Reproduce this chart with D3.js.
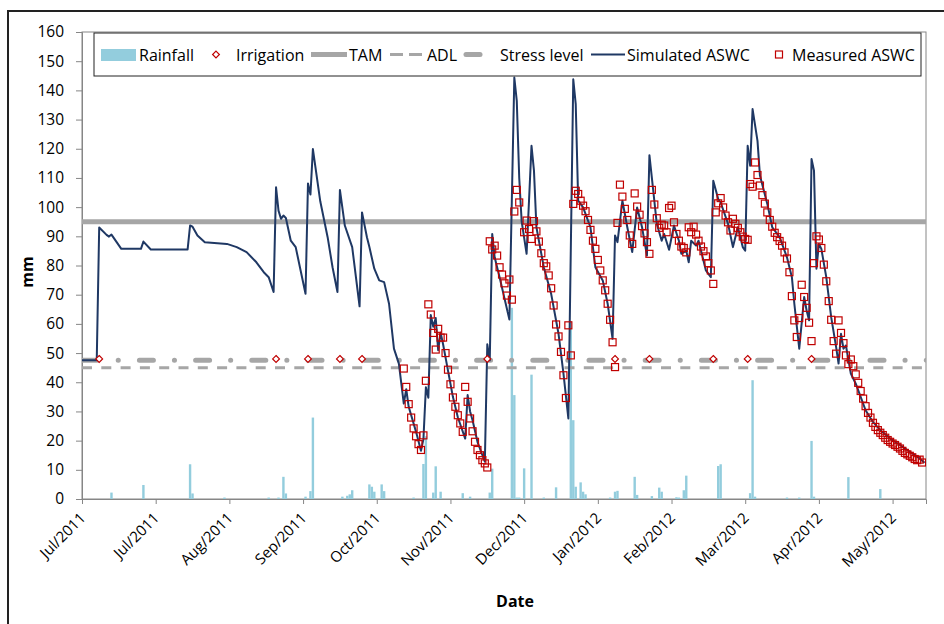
<!DOCTYPE html>
<html>
<head>
<meta charset="utf-8">
<script src="https://cdn.jsdelivr.net/npm/d3@7"></script>
<style>
  body { margin: 0; background: #fff; }
  svg { font-family: "Open Sans", "Noto Sans", sans-serif; }
</style>
</head>
<body>
<svg id="chart" width="944" height="624"></svg>
<script>
// days are counted from 1 Jul 2011
const startDate = Date.UTC(2011, 6, 1);

// simulated ASWC (mm), read at the turning points of the curve
const simDay = [0,6,7,10,11,12,16,24,25,28,43,44,45,47,50,59,63,67,71,74,76,78,79,80,81,82,83,85,87,89,91,92,93,94,97,100,102,104,105,107,110,113,114,116,117,119,121,123,125,127,129,131,132,133,136,138,139,140,141,142,143,144,145,146,147,149,151,153,156,157,158,159,161,163,164,165,166,167,168,170,174,176,177,178,179,181,183,184,185,188,191,194,196,198,200,201,202,204,207,209,212,214,216,217,218,220,222,224,226,228,230,231,232,234,236,237,239,241,243,244,246,247,248,250,251,254,256,257,259,260,263,265,267,269,270,271,272,273,275,276,279,281,284,287,289,290,292,294,295,296,297,298,299,300,301,303,305,307,308,309,310,311,313,315,317,319,322,325,329,333,337,341,343];
const simVal = [47.5,47.5,93,90.5,89.9,90.6,85.7,85.7,88.2,85.5,85.5,93.7,93.3,90.3,88,87.4,86.3,84.6,81.1,77.7,76,70.9,106.8,98.8,96,97.1,96.3,88.5,86.3,78.3,70.3,108.1,104.3,119.9,102,89.7,79.4,70.9,105.9,93.7,86.3,66,98.2,89.7,86.3,78.9,74.9,74.3,66.9,51.5,46.4,32.7,37.6,31.6,23,16.5,20.5,38.3,34.7,63,59,62,51,57,53,44,35,28,20.7,35.6,30,27,19.6,15,12.8,53,47.5,90.8,82.8,76,61.5,144.4,136.4,110,95,84,121,112.5,93.1,79.4,70.3,56.6,43,27.6,143.8,135.3,102.2,99.9,93.1,79.4,74.9,66.9,54.9,90.3,88,102.2,93.1,84.6,99.9,93.1,83.4,117.8,110,94.3,88.5,90.8,85.4,93.7,88.5,84,85.1,81.1,88.5,86.8,88.5,78.3,76,109,102.8,101.6,94.3,86.3,93.1,86.3,85.1,121,114.2,133.6,122.7,110.8,101.1,93.1,89.7,82.8,76,66.9,51.5,69.2,64.6,61.2,116.5,112.5,78.9,87.4,85.7,76,62.3,52.1,46.4,56.6,51.5,52.6,43,39.5,35,30.4,26.4,23.6,20.7,18.5,16.2,13.9,12.4];

// measured ASWC (mm)
const measDay = [131,132,133,134,135,136,137,138,139,140,141,142,143,144,145,146,147,148,149,150,151,152,153,154,155,156,157,158,159,160,161,162,163,164,165,
  166,167,168,169,170,171,172,173,174,175,176,177,178,180,181,182,183,184,185,186,187,188,189,190,191,192,193,194,195,196,197,198,199,
  200,201,202,203,204,205,206,207,208,209,210,211,212,213,214,215,216,217,218,219,220,221,222,223,224,225,226,227,228,229,230,231,
  232,233,234,235,236,237,238,239,240,241,242,243,244,245,246,247,248,249,250,251,252,253,254,255,256,257,258,259,260,261,262,263,264,
  265,266,267,268,269,270,271,272,273,274,275,276,277,278,279,280,281,282,283,284,285,286,287,288,289,290,291,292,293,294,295,296,297,
  298,299,300,301,302,303,304,305,306,307,308,309,310,311,312,313,314,315,316,317,318,319,320,321,322,323,324,325,326,327,328,329,330,
  331,332,333,334,335,336,337,338,339,340,341,342];
const measVal = [44.7,38.4,32.5,27.9,24.2,21.5,18.8,16.8,21.8,40.5,66.7,63.2,56.9,51.2,58.3,55.3,55.3,50,44.3,39.3,34.8,31.6,28.7,25.9,23,38.4,33.3,27.6,23.2,19.6,16.8,15,13.3,12.2,10.8,
  88.3,85.5,86.8,83.4,79.4,76.9,73.9,69.7,75.2,68.3,98.5,105.9,101.6,91.4,95.4,92.5,89.1,95.2,91.7,88.2,84.2,80.8,79.7,76.6,72.2,66.3,59.8,55.7,50.4,42.4,34.6,59.5,49.2,
  101.1,105.6,104.5,102.2,100.5,98.6,95.6,92.2,88.5,85.7,81.9,78.3,74.9,71.5,66.9,61.4,53.7,45.2,94.6,107.7,103.6,99.4,95.6,90.3,87.4,104.7,100.2,97.4,93.5,91,88,84,
  105.9,100.9,96.2,92.9,94,93.7,91.4,99.7,100.5,94.8,90.8,88.5,86.5,86,84.5,93.1,91.4,93.3,90.6,88.5,86.5,84.9,83.1,80.8,78.3,73.7,98.2,101.3,103.1,99.9,97.1,94.8,92,
  96,94.3,92.9,91.4,89.9,89.1,88.8,107.9,107,115.3,111,107.4,104.1,101.2,98.2,95.6,93.3,91.2,89.7,88.4,86.8,84.5,82.4,77.7,69.5,61.2,55.5,62,73.4,69.2,65.5,60.4,54.1,
  80.8,90,88.9,86,80.3,74.6,67.8,61.4,54.1,49.8,61.2,56.9,53.4,49.2,46.2,47.8,45.5,42.7,39.8,37,34.4,31.8,29.5,27.9,26.1,24.7,23.6,22.7,21.9,21,20.2,19.6,19,
  18.5,17.9,17.3,16.5,15.8,15.3,14.8,14.3,13.7,13.3,13.5,12.5];

// rainfall (mm/day)
const rainDay = [12,25,44,45,58,76,80,82,83,91,93,94,106,108,109,110,117,118,119,122,123,135,139,140,143,144,146,155,158,166,167,175,176,177,178,180,183,188,193,199,200,201,203,204,205,215,217,218,225,226,232,235,236,242,243,245,246,259,260,272,273,274,287,292,297,298,312,325];
const rainVal = [2.2,4.8,11.9,1.9,0.5,0.5,0.5,7.6,1.9,0.8,2.7,27.9,0.8,1.1,1.6,3,5,4.2,2.5,5,2.7,0.5,12,21.5,2.2,11.2,2.5,2,0.8,2.2,10.4,65.5,35.6,0.5,0.5,10.5,42.6,0.5,4,61,27,4.2,5.7,2.5,1.6,0.5,2.5,2.8,7.6,1.4,1,3.9,2.5,0.6,0.5,3,8,11.3,11.9,2,40.7,0.8,0.5,0.5,19.9,0.8,7.5,3.4];

// irrigation events
const irrDay = [7,79,92,105,114,165,217,231,257,271,297];
const irrVal = [48,48,48,48,48,48,48,48,48,48,48];

// thresholds (mm)
const TAM = 95, ADL = 45, STRESS = 47.5;

const yTicks = d3.range(0, 161, 10);
const xTickDays = d3.range(0, 331, 30);

const dayToDate = d => new Date(startDate + d * 864e5);

const svg = d3.select('#chart');
const pLeft = 82, pRight = 926, pTop = 32, pBottom = 499;

var x = d3.scaleUtc()
  .domain([dayToDate(0), dayToDate(343.6)])
  .range([pLeft, pRight]);
var y = d3.scaleLinear()
  .domain([0, 160])
  .range([pBottom, pTop]);

const grey = '#a6a6a6', axisGrey = '#868686', red = '#c00000', navy = '#1f3864', rainBlue = '#93cddd';

// outer frame
svg.append('rect')
  .attr('x', 8).attr('y', 11).attr('width', 960).attr('height', 640)
  .attr('fill', 'none').attr('stroke', '#222').attr('stroke-width', 2);

svg.append('defs').append('clipPath').attr('id', 'plot')
  .append('rect').attr('x', pLeft).attr('y', pTop).attr('width', pRight - pLeft).attr('height', pBottom - pTop);

// plot area border
svg.append('rect')
  .attr('x', pLeft).attr('y', pTop).attr('width', pRight - pLeft).attr('height', pBottom - pTop)
  .attr('fill', 'none').attr('stroke', axisGrey).attr('stroke-width', 1);

// axes
var yAxis = svg.append('g')
  .attr('transform', `translate(${pLeft},0)`)
  .call(d3.axisLeft(y).tickValues(yTicks).tickSize(6).tickPadding(12).tickFormat(d3.format('d')));
var xAxis = svg.append('g')
  .attr('transform', `translate(0,${pBottom})`)
  .call(d3.axisBottom(x).tickValues(xTickDays.map(dayToDate)).tickSize(5).tickFormat(d3.utcFormat('%b/%Y')));

svg.selectAll('.domain').attr('stroke', axisGrey);
svg.selectAll('.tick line').attr('stroke', axisGrey);
yAxis.selectAll('text').attr('font-size', 15.5).attr('fill', '#000').attr('font-family', '"Open Sans", sans-serif');
xAxis.selectAll('text')
  .attr('font-size', 15).attr('fill', '#000').attr('font-family', '"Open Sans", sans-serif')
  .attr('text-anchor', 'end')
  .attr('y', 0).attr('dy', 0)
  .attr('transform', 'translate(4,20) rotate(-45)');

// axis titles
svg.append('text')
  .attr('transform', 'translate(33,272) rotate(-90)')
  .attr('text-anchor', 'middle').attr('font-size', 16).attr('font-weight', 'bold')
  .text('mm');
svg.append('text')
  .attr('x', 515).attr('y', 607)
  .attr('text-anchor', 'middle').attr('font-size', 16).attr('font-weight', 'bold')
  .text('Date');

const plot = svg.append('g').attr('clip-path', 'url(#plot)');

// rainfall bars
plot.append('g')
  .selectAll('rect.rain')
  .data(rainDay.map((d, i) => ({day: d, v: rainVal[i]})))
  .enter()
  .append('rect')
  .classed('rain', true)
  .attr('x', d => x(dayToDate(d.day)) - 1.2)
  .attr('width', 2.4)
  .attr('y', d => y(d.v))
  .attr('height', d => y(0) - y(d.v))
  .attr('fill', rainBlue);

// threshold lines
plot.append('line')
  .attr('x1', pLeft).attr('x2', pRight).attr('y1', y(TAM)).attr('y2', y(TAM))
  .attr('stroke', grey).attr('stroke-width', 5);
plot.append('line')
  .attr('x1', pLeft).attr('x2', pRight).attr('y1', y(ADL)).attr('y2', y(ADL))
  .attr('stroke', grey).attr('stroke-width', 3).attr('stroke-dasharray', '10,9.3');
plot.append('line')
  .attr('x1', pLeft + 1.2).attr('x2', pRight + 10).attr('y1', y(STRESS)).attr('y2', y(STRESS))
  .attr('stroke', grey).attr('stroke-width', 5).attr('stroke-linecap', 'round')
  .attr('stroke-dasharray', '14,21,0.1,21.1');

// simulated line
var lineGen = d3.line()
  .x(d => x(dayToDate(d.day)))
  .y(d => y(d.v));
plot.append('path')
  .datum(simDay.map((d, i) => ({day: d, v: simVal[i]})))
  .attr('d', lineGen)
  .attr('fill', 'none')
  .attr('stroke', navy)
  .attr('stroke-width', 2)
  .attr('stroke-linejoin', 'round');

// measured squares
plot.append('g')
  .selectAll('rect.meas')
  .data(measDay.map((d, i) => ({day: d, v: measVal[i]})))
  .enter()
  .append('rect')
  .classed('meas', true)
  .attr('x', d => x(dayToDate(d.day)) - 3.5)
  .attr('y', d => y(d.v) - 3.5)
  .attr('width', 7).attr('height', 7)
  .attr('fill', 'none')
  .attr('stroke', red)
  .attr('stroke-width', 1.2);

// irrigation diamonds
const diamond = 'M0,-3.4L3.4,0L0,3.4L-3.4,0Z';
plot.append('g')
  .selectAll('path.irr')
  .data(irrDay.map((d, i) => ({day: d, v: irrVal[i]})))
  .enter()
  .append('path')
  .classed('irr', true)
  .attr('d', diamond)
  .attr('transform', d => `translate(${x(dayToDate(d.day))},${y(d.v)})`)
  .attr('fill', '#fff')
  .attr('stroke', red)
  .attr('stroke-width', 1.2);

// legend
const lg = svg.append('g');
const ly = 54.5;
lg.append('rect')
  .attr('x', 94).attr('y', 33).attr('width', 827).attr('height', 43)
  .attr('fill', '#fff').attr('stroke', '#222').attr('stroke-width', 1);
lg.append('rect').attr('x', 101).attr('y', 49).attr('width', 35).attr('height', 12).attr('fill', rainBlue);
lg.append('path').attr('d', diamond).attr('transform', `translate(216,${ly})`)
  .attr('fill', '#fff').attr('stroke', red).attr('stroke-width', 1.2);
lg.append('line').attr('x1', 311).attr('x2', 347).attr('y1', ly).attr('y2', ly)
  .attr('stroke', grey).attr('stroke-width', 5);
lg.append('line').attr('x1', 390).attr('x2', 422).attr('y1', ly).attr('y2', ly)
  .attr('stroke', grey).attr('stroke-width', 3).attr('stroke-dasharray', '13,6');
lg.append('line').attr('x1', 466).attr('x2', 480).attr('y1', ly).attr('y2', ly)
  .attr('stroke', grey).attr('stroke-width', 5).attr('stroke-linecap', 'round');
lg.append('line').attr('x1', 591).attr('x2', 625).attr('y1', ly).attr('y2', ly)
  .attr('stroke', navy).attr('stroke-width', 2);
lg.append('rect').attr('x', 775.5).attr('y', ly - 3.5).attr('width', 7).attr('height', 7)
  .attr('fill', 'none').attr('stroke', red).attr('stroke-width', 1.2);

const legendText = [['Rainfall', 139], ['Irrigation', 236], ['TAM', 349], ['ADL', 427],
  ['Stress level', 500], ['Simulated ASWC', 627], ['Measured ASWC', 792]];
lg.selectAll('text.lt')
  .data(legendText)
  .enter()
  .append('text')
  .classed('lt', true)
  .attr('x', d => d[1])
  .attr('y', 60.5)
  .attr('font-size', 16)
  .text(d => d[0]);
</script>
</body>
</html>
